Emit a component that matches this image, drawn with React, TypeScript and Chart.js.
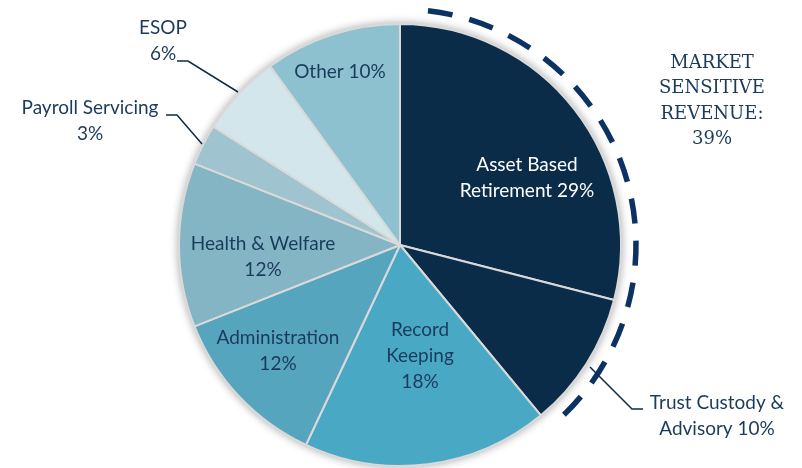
import React, { useEffect, useRef } from "react";
import { Chart, registerables } from "chart.js";

Chart.register(...registerables);

const categories = [
  "Asset Based Retirement",
  "Trust Custody & Advisory",
  "Record Keeping",
  "Administration",
  "Health & Welfare",
  "Payroll Servicing",
  "ESOP",
  "Other",
];
const values = [29, 10, 18, 12, 12, 3, 6, 10];
const labelLines = [
  ["Asset Based", "Retirement 29%"],
  ["Trust Custody &", "Advisory 10%"],
  ["Record", "Keeping", "18%"],
  ["Administration", "12%"],
  ["Health & Welfare", "12%"],
  ["Payroll Servicing", "3%"],
  ["ESOP", "6%"],
  ["Other 10%"],
];
const sliceColors = [
  "#0b2c48",
  "#0b2c48",
  "#49a9c5",
  "#55a5bf",
  "#84b5c5",
  "#9fc4cf",
  "#d3e6ec",
  "#8dc1cf",
];
const marketLines = ["MARKET", "SENSITIVE", "REVENUE:", "39%"];
const marketShare = 39;

// label layout: [dx, dy] offsets from pie centre (px) for the label block centre, and text colour
const labelLayout = [
  { dx: 127, dy: -67, color: "#ffffff" },
  { dx: 317, dy: 171, color: "#1b3a5c", leader: [[190, 122], [232, 164], [243, 164]] },
  { dx: 20, dy: 111, color: "#1b3a5c" },
  { dx: -122, dy: 106, color: "#1b3a5c" },
  { dx: -137, dy: 12, color: "#1b3a5c" },
  { dx: -310, dy: -124, color: "#1b3a5c", leader: [[-234, -130], [-223, -130], [-198, -101]] },
  { dx: -237, dy: -204, color: "#1b3a5c", leader: [[-223, -184], [-212, -184], [-162, -153]] },
  { dx: -60, dy: -173, color: "#1b3a5c" },
];

const overlayPlugin = {
  id: "overlay",
  beforeDatasetsDraw(chart: any) {
    const meta = chart.getDatasetMeta(0);
    const arc = meta.data[0];
    if (!arc) return;
    const { x, y, outerRadius } = arc;
    const ctx = chart.ctx;
    ctx.save();
    ctx.shadowColor = "rgba(0,0,0,0.35)";
    ctx.shadowBlur = 8;
    ctx.beginPath();
    ctx.arc(x, y, outerRadius + 1, 0, Math.PI * 2);
    ctx.fillStyle = "#d9d9d9";
    ctx.fill();
    ctx.restore();
  },
  afterDatasetsDraw(chart: any) {
    const meta = chart.getDatasetMeta(0);
    const arc = meta.data[0];
    if (!arc) return;
    const { x, y, outerRadius } = arc;
    const ctx = chart.ctx;
    ctx.save();
    // dashed arc around market-sensitive slices
    const deg = Math.PI / 180;
    const start = -Math.PI / 2 + 6.8 * deg;
    const end = -Math.PI / 2 + ((marketShare / 100) * 360 - 4.4) * deg;
    const rr = outerRadius + 15;
    const len = (end - start) * rr;
    const dash = 25;
    const n = Math.round((len + 16) / (dash + 16));
    const gap = (len - n * dash) / (n - 1);
    ctx.beginPath();
    ctx.arc(x, y, rr, start, end);
    ctx.setLineDash([dash, gap]);
    ctx.lineWidth = 5.5;
    ctx.strokeStyle = "#0b3263";
    ctx.stroke();
    ctx.setLineDash([]);

    // labels
    const lh = 26;
    ctx.font = "19px Lato, 'Open Sans', sans-serif";
    ctx.textAlign = "center";
    ctx.textBaseline = "middle";
    labelLines.forEach((lines, i) => {
      const lay = labelLayout[i];
      const cx = x + lay.dx;
      const cy = y + lay.dy;
      ctx.fillStyle = lay.color;
      const top = cy - ((lines.length - 1) * lh) / 2;
      lines.forEach((t, j) => ctx.fillText(t, cx, top + j * lh));
      if (lay.leader) {
        ctx.beginPath();
        lay.leader.forEach((p, k) => {
          if (k === 0) ctx.moveTo(x + p[0], y + p[1]);
          else ctx.lineTo(x + p[0], y + p[1]);
        });
        ctx.strokeStyle = "#0b2c48";
        ctx.lineWidth = 1.5;
        ctx.stroke();
      }
    });

    // market sensitive text
    ctx.font = "18px 'DejaVu Serif', 'Liberation Serif', serif";
    ctx.fillStyle = "#1b3a5c";
    marketLines.forEach((t, j) => ctx.fillText(t, x + 312, y - 182 + j * 25.5));
    ctx.restore();
  },
};

export default function App() {
  const ref = useRef<HTMLCanvasElement>(null);
  useEffect(() => {
    document.body.style.margin = "0";
    const chart = new Chart(ref.current!, {
      type: "pie",
      data: {
        labels: categories,
        datasets: [
          {
            data: values,
            backgroundColor: sliceColors,
            borderColor: "#d9d9d9",
            borderWidth: 2,
          },
        ],
      },
      options: {
        responsive: false,
        animation: false,
        layout: { padding: { top: 23, bottom: 1, left: 178, right: 180 } },
        plugins: { legend: { display: false }, tooltip: { enabled: false } },
      },
      plugins: [overlayPlugin],
    });
    return () => chart.destroy();
  }, []);
  return <canvas ref={ref} width={802} height={468} style={{ display: "block" }} />;
}
